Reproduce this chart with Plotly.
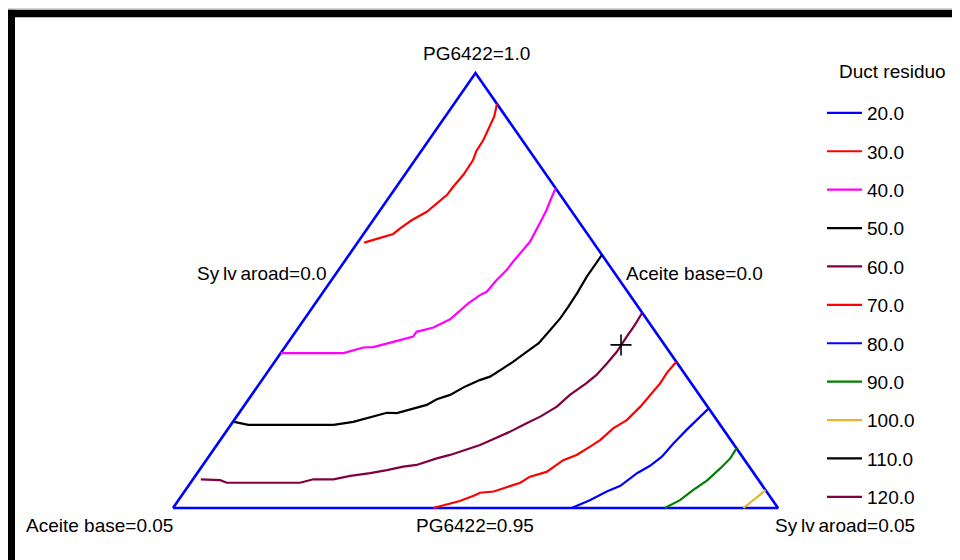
import plotly.graph_objects as go

# ---------------- data (pseudo-component fractions, 0..1 of the 0.95-1.0 / 0-0.05 ranges) -------------
levels = ["20.0", "30.0", "40.0", "50.0", "60.0", "70.0", "80.0", "90.0", "100.0", "110.0", "120.0"]
level_colors = ["#0000FF", "#FF0000", "#FF00FF", "#000000", "#800040", "#FF0000",
                "#0000FF", "#008000", "#E5B52A", "#000000", "#800040"]

c30_sylv = [0.011, 0.036, 0.049, 0.054, 0.064, 0.079, 0.086, 0.093, 0.094, 0.097, 0.096, 0.091, 0.090, 0.085, 0.081, 0.071]
c30_pg = [0.610, 0.624, 0.630, 0.643, 0.662, 0.681, 0.701, 0.720, 0.739, 0.766, 0.800, 0.821, 0.846, 0.873, 0.900, 0.929]

c40_sylv = [0.000, 0.104, 0.130, 0.146, 0.182, 0.200, 0.200, 0.223, 0.241, 0.247, 0.253, 0.263, 0.270, 0.273, 0.278,
            0.279, 0.282, 0.284, 0.279, 0.275, 0.270, 0.265]
c40_pg = [0.356, 0.356, 0.369, 0.370, 0.386, 0.394, 0.405, 0.415, 0.434, 0.455, 0.471, 0.490, 0.497, 0.524, 0.547,
          0.566, 0.593, 0.612, 0.655, 0.685, 0.708, 0.735]

c50_sylv = [0.002, 0.029, 0.170, 0.199, 0.244, 0.261, 0.301, 0.311, 0.328, 0.343, 0.360, 0.373, 0.385, 0.394, 0.405,
            0.415, 0.419, 0.422, 0.422, 0.421, 0.418, 0.418, 0.418]
c50_pg = [0.198, 0.191, 0.191, 0.198, 0.219, 0.218, 0.237, 0.250, 0.260, 0.279, 0.294, 0.302, 0.321, 0.336, 0.359,
          0.379, 0.409, 0.436, 0.463, 0.494, 0.532, 0.559, 0.582]

c60_sylv = [0.013, 0.046, 0.060, 0.181, 0.199, 0.232, 0.256, 0.286, 0.310, 0.333, 0.353, 0.379, 0.397, 0.422, 0.435,
            0.450, 0.469, 0.487, 0.502, 0.518, 0.526, 0.540, 0.547, 0.551, 0.554, 0.553, 0.553, 0.551]
c60_pg = [0.066, 0.064, 0.058, 0.058, 0.066, 0.066, 0.074, 0.080, 0.087, 0.095, 0.099, 0.114, 0.122, 0.137, 0.145,
          0.158, 0.175, 0.195, 0.210, 0.233, 0.260, 0.287, 0.306, 0.333, 0.359, 0.394, 0.421, 0.449]

c70_sylv = [0.430, 0.466, 0.483, 0.490, 0.511, 0.545, 0.554, 0.576, 0.590, 0.606, 0.619, 0.628, 0.636, 0.649, 0.656,
            0.659, 0.662, 0.661, 0.664]
c70_pg = [0.000, 0.016, 0.028, 0.035, 0.038, 0.058, 0.072, 0.083, 0.110, 0.122, 0.141, 0.156, 0.183, 0.202, 0.233,
          0.260, 0.287, 0.310, 0.336]

c80_sylv = [0.659, 0.680, 0.698, 0.714, 0.727, 0.740, 0.749, 0.753, 0.759, 0.764, 0.771]
c80_pg = [0.000, 0.018, 0.038, 0.051, 0.080, 0.097, 0.118, 0.149, 0.179, 0.202, 0.229]

c90_sylv = [0.813, 0.829, 0.839, 0.851, 0.859, 0.864, 0.863]
c90_pg = [0.000, 0.018, 0.041, 0.063, 0.091, 0.114, 0.137]

c100_sylv = [0.943, 0.950, 0.959]
c100_pg = [0.000, 0.018, 0.041]

# levels 20, 110 and 120 have no contour inside the region (legend only)
contours = {
    "20.0": ([None], [None]),
    "30.0": (c30_sylv, c30_pg),
    "40.0": (c40_sylv, c40_pg),
    "50.0": (c50_sylv, c50_pg),
    "60.0": (c60_sylv, c60_pg),
    "70.0": (c70_sylv, c70_pg),
    "80.0": (c80_sylv, c80_pg),
    "90.0": (c90_sylv, c90_pg),
    "100.0": (c100_sylv, c100_pg),
    "110.0": ([None], [None]),
    "120.0": ([None], [None]),
}

triangle_sylv = [0.0, 0.0, 1.0, 0.0]
triangle_pg = [0.0, 1.0, 0.0, 0.0]

current_point_sylv = [0.553]
current_point_pg = [0.375]

vertex_labels = ["PG6422=1.0", "Aceite base=0.05", "Sy\u2009lv\u2009aroad=0.05"]
edge_labels = ["Sy\u2009lv\u2009aroad=0.0", "Aceite base=0.0", "PG6422=0.95"]
legend_title = "Duct residuo"


def to_xy(sylv, pg):
    """Ternary projection: left-bottom = Aceite base, right-bottom = Sylvaroad, top = PG6422."""
    xs = [None if s is None else s + p / 2.0 for s, p in zip(sylv, pg)]
    ys = list(pg)
    return xs, ys


FONT = "Liberation Sans, Arial, sans-serif"
FS = 19

# page body has an 8px margin: figure is 952x552 drawn at (8, 8)
OFF = 8
W, H = 960 - OFF, 560 - OFF

fig = go.Figure()

tx, ty = to_xy(triangle_sylv, triangle_pg)
fig.add_trace(go.Scatter(x=tx, y=ty, mode="lines", line=dict(color="#0000FF", width=2.6),
                         showlegend=False, hoverinfo="skip"))

for i, lev in enumerate(levels):
    s, p = contours[lev]
    xs, ys = to_xy(s, p)
    fig.add_trace(go.Scatter(x=xs, y=ys, mode="lines", name=lev, legendgroup=lev,
                             line=dict(color=level_colors[i], width=2.2)))

cx, cy = to_xy(current_point_sylv, current_point_pg)
fig.add_trace(go.Scatter(x=cx, y=cy, mode="markers", showlegend=False,
                         marker=dict(symbol="cross-thin", size=15, line=dict(color="#000000", width=1.6))))

# axis ranges: triangle base spans window px 173..778, apex at py 73, base at py 508
fig.update_xaxes(range=[(OFF - 173) / 605, (960 - 173) / 605], visible=False, fixedrange=True)
fig.update_yaxes(range=[(508 - 560) / 435, (508 - OFF) / 435], visible=False, fixedrange=True)


def px(x):
    return (x - OFF) / W


def py(y):
    return 1 - (y - OFF) / H


def ann(text, x, y):
    return dict(text=text, x=px(x), y=py(y), xref="paper", yref="paper",
                showarrow=False, xanchor="center", yanchor="middle",
                font=dict(family=FONT, size=FS, color="#000000"))


annotations = [
    ann(vertex_labels[0], 476, 53),
    ann(vertex_labels[1], 99, 525),
    ann(vertex_labels[2], 845, 525),
    ann(edge_labels[0], 262, 274),
    ann(edge_labels[1], 694, 274),
    ann(edge_labels[2], 475, 525),
    ann(legend_title, 892, 72),
]

shapes = [
    dict(type="rect", xref="paper", yref="paper", x0=px(7.3), x1=px(15), y0=0, y1=py(9.8),
         fillcolor="#000000", line=dict(width=0)),
    dict(type="rect", xref="paper", yref="paper", x0=px(7.3), x1=1, y0=py(17.3), y1=py(9.8),
         fillcolor="#000000", line=dict(width=0)),
    dict(type="line", xref="paper", yref="paper", x0=px(8), x1=1, y0=py(9), y1=py(9),
         line=dict(color="#AAAAAA", width=1)),
]

fig.update_layout(
    width=W, height=H,
    margin=dict(l=0, r=0, t=0, b=0),
    paper_bgcolor="#FFFFFF", plot_bgcolor="#FFFFFF",
    showlegend=True,
    legend=dict(x=px(822), xanchor="left", y=py(94), yanchor="top",
                font=dict(family=FONT, size=FS, color="#000000"),
                itemwidth=35,
                traceorder="grouped", tracegroupgap=10.7, bgcolor="rgba(0,0,0,0)"),
    annotations=annotations,
    shapes=shapes,
)

fig.write_html("out.html")
